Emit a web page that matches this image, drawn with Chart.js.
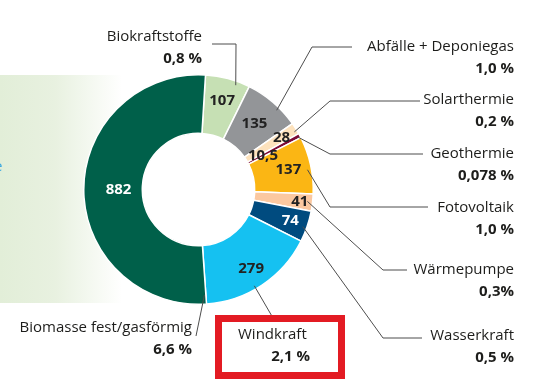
<!DOCTYPE html>
<html>
<head>
<meta charset="utf-8">
<script src="https://cdn.jsdelivr.net/npm/chart.js@4"></script>
<style>
  html, body { margin: 0; padding: 0; background: #fff; }
  #wrap { width: 536px; height: 387px; position: relative; }
</style>
</head>
<body>
<div id="wrap"><canvas id="chart" width="536" height="387"></canvas></div>
<script>
// data, clockwise from the top
const categories = ['Biokraftstoffe', 'Abfälle + Deponiegas', 'Solarthermie', 'Geothermie', 'Fotovoltaik',
  'Wärmepumpe', 'Wasserkraft', 'Windkraft', 'Biomasse fest/gasförmig'];
const values = [107, 135, 28, 10.5, 137, 41, 74, 279, 882];
const valueLabels = ['107', '135', '28', '10,5', '137', '41', '74', '279', '882'];
const shares = ['0,8 %', '1,0 %', '0,2 %', '0,078 %', '1,0 %', '0,3%', '0,5 %', '2,1 %', '6,6 %'];

const colors = ['#c6e0b4', '#939598', '#fde2bd', '#7d0b35', '#fbb614', '#fbc8a0', '#004b7f', '#15c1f1', '#00604a'];
const valueColors = ['#222', '#222', '#222', '#222', '#222', '#222', '#fff', '#222', '#fff'];
// radius of the value text, px from center
const valueRadius = [92, 86, 98, 73, 92, 102, 97, 95, 80];

// callout layout: text anchor, elbow, and anchor on slice (fraction of slice, fraction of outer radius)
const callouts = [
  {x: 202, y: 37, line: [[212, 44], [236, 44]], t: 0.71, r: 0.965},
  {x: 514, y: 47, line: [[352, 47], [312, 47]], t: 0.64, r: 0.97},
  {x: 514, y: 100, line: [[420, 101], [330, 101]], t: 0.68, r: 0.975},
  {x: 514, y: 154, line: [[423, 154], [330, 154]], t: 0.6, r: 0.98},
  {x: 514, y: 208, line: [[428, 207], [330, 207]], t: 0.57, r: 0.965},
  {x: 514, y: 270, line: [[407, 270], [383, 270]], t: 0.46, r: 0.955},
  {x: 514, y: 336, line: [[422, 338], [383, 338]], t: 0.55, r: 0.965},
  {x: 310, y: 335, line: [[273, 318]], t: 0.56, r: 0.97, nameX: 238},
  {x: 192, y: 328, line: [[196, 336]], t: 0.004, r: 0.92},
];

const FONT = '"Open Sans", "DejaVu Sans", sans-serif';

const backdrop = {
  id: 'backdrop',
  beforeDraw(chart) {
    const {ctx} = chart;
    ctx.save();
    const g = ctx.createLinearGradient(0, 0, 122, 0);
    g.addColorStop(0, '#e2eed8');
    g.addColorStop(0.45, '#e8f1e0');
    g.addColorStop(1, '#ffffff');
    ctx.fillStyle = g;
    ctx.fillRect(0, 75, 122, 228);
    ctx.fillStyle = '#3aa7df';
    ctx.font = '15px ' + FONT;
    ctx.textBaseline = 'middle';
    ctx.fillText('e', -6, 167);
    ctx.restore();
  }
};

const labels = {
  id: 'sliceLabels',
  afterDatasetsDraw(chart) {
    const {ctx} = chart;
    const arcs = chart.getDatasetMeta(0).data;
    ctx.save();
    ctx.textBaseline = 'middle';

    // values on slices
    ctx.textAlign = 'center';
    ctx.font = 'bold 15px ' + FONT;
    arcs.forEach((arc, i) => {
      const a = (arc.startAngle + arc.endAngle) / 2;
      ctx.fillStyle = valueColors[i];
      ctx.fillText(valueLabels[i], arc.x + Math.cos(a) * valueRadius[i], arc.y + Math.sin(a) * valueRadius[i]);
    });

    // leader lines
    ctx.strokeStyle = '#4d4d4d';
    ctx.lineWidth = 1;
    arcs.forEach((arc, i) => {
      const c = callouts[i];
      const a = arc.startAngle + (arc.endAngle - arc.startAngle) * c.t;
      const px = arc.x + Math.cos(a) * arc.outerRadius * c.r;
      const py = arc.y + Math.sin(a) * arc.outerRadius * c.r;
      ctx.beginPath();
      ctx.moveTo(c.line[0][0], c.line[0][1]);
      for (let k = 1; k < c.line.length; k++) ctx.lineTo(c.line[k][0], c.line[k][1]);
      ctx.lineTo(px, py);
      ctx.stroke();
    });

    // category names and shares
    ctx.fillStyle = '#1d1d1b';
    callouts.forEach((c, i) => {
      ctx.font = '15px ' + FONT;
      if (c.nameX !== undefined) {
        ctx.textAlign = 'left';
        ctx.fillText(categories[i], c.nameX, c.y);
      } else {
        ctx.textAlign = 'right';
        ctx.fillText(categories[i], c.x, c.y);
      }
      ctx.textAlign = 'right';
      ctx.font = 'bold 15px ' + FONT;
      ctx.fillText(shares[i], c.x, c.y + 22);
    });

    // highlight box around Windkraft
    ctx.strokeStyle = '#e31b23';
    ctx.lineWidth = 7;
    ctx.strokeRect(218.5, 318.5, 123, 57);
    ctx.restore();
  }
};

new Chart(document.getElementById('chart'), {
  type: 'doughnut',
  data: {
    labels: categories,
    datasets: [{
      data: values,
      backgroundColor: colors,
      borderColor: '#ffffff',
      borderWidth: 1.5,
    }]
  },
  options: {
    responsive: false,
    animation: false,
    rotation: 3.5,
    cutout: '49%',
    layout: {
      padding: {left: 83, right: 222, top: 74, bottom: 82}
    },
    plugins: {
      legend: {display: false},
      tooltip: {enabled: false},
    }
  },
  plugins: [backdrop, labels]
});
</script>
</body>
</html>
